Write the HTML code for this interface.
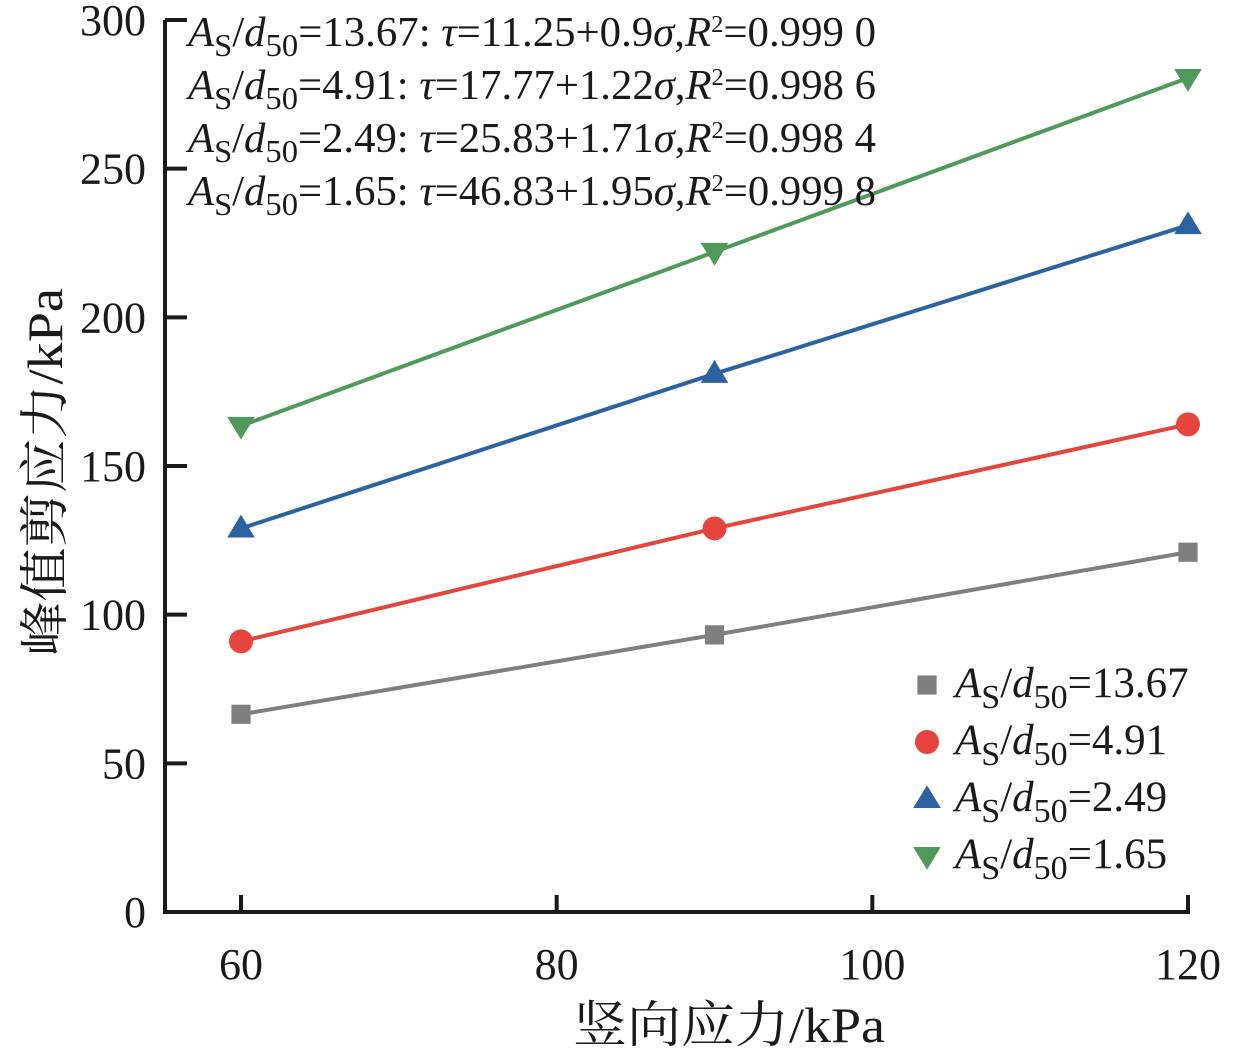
<!DOCTYPE html>
<html><head><meta charset="utf-8"><style>
body{margin:0;background:#fff}
svg{display:block;font-family:"Liberation Serif","Noto Serif CJK SC",serif}
</style></head><body>
<svg id="chart" width="1239" height="1053" viewBox="0 0 1239 1053">
<g id="plot"></g>
</svg>
<script>
const xTicks=[60,80,100,120];
const yTicks=[0,50,100,150,200,250,300];
const sigma=[60,90,120];
const s1367=[66.5,93.2,121];
const s491=[91,129,164];
const s249=[129,181,231];
const s165=[163.5,222,280.5];
const seriesNames=['13.67','4.91','2.49','1.65'];
const eqA=['=13.67: ','=4.91: ','=2.49: ','=1.65: '];
const eqB=['=11.25+0.9','=17.77+1.22','=25.83+1.71','=46.83+1.95'];
const r2=['=0.999 0','=0.998 6','=0.998 4','=0.999 8'];

const X=v=>241+(v-60)*(1188-241)/60;
const Y=v=>912-v*(892/300);
const NS='http://www.w3.org/2000/svg';
const g=document.getElementById('plot');
function mk(t,a,p){const e=document.createElementNS(NS,t);for(const k in a)e.setAttribute(k,a[k]);(p||g).appendChild(e);return e;}

const ax=mk('path',{d:'M165 20 V912 H1190',fill:'none',stroke:'#1a1a1a','stroke-width':4});


yTicks.forEach(v=>{
 const t=mk('line',{x1:165,x2:187,y1:Y(v),y2:Y(v),stroke:'#1a1a1a','stroke-width':4});
 
 
 const l=mk('text',{x:146,y:Y(v)+15,'text-anchor':'end','font-size':44,fill:'#1a1a1a'});
 l.textContent=v;
 
 
});
xTicks.forEach(v=>{
 const t=mk('line',{x1:X(v),x2:X(v),y1:912,y2:895,stroke:'#1a1a1a','stroke-width':4});
 
 
 const l=mk('text',{x:X(v),y:979,'text-anchor':'middle','font-size':44,fill:'#1a1a1a'});
 l.textContent=v;
 
 
});
const xt=mk('text',{x:729,y:1042,'text-anchor':'middle','font-size':50,fill:'#1a1a1a',textLength:312,lengthAdjust:'spacingAndGlyphs'});
xt.textContent='竖向应力/kPa';


const yt=mk('text',{x:0,y:0,'text-anchor':'middle','font-size':50,fill:'#1a1a1a',textLength:368,lengthAdjust:'spacingAndGlyphs',transform:'translate(62,472) rotate(-90)'});
yt.textContent='峰值剪应力/kPa';



const data=[s1367,s491,s249,s165];
const colors=['#7f7f7f','#e5453d','#2d62a2','#4f9a5a'];
function marker(i,cx,cy,sz,parent){
 let e;
 if(i===0)e=mk('rect',{x:cx-sz*0.8,y:cy-sz*0.8,width:sz*1.6,height:sz*1.6,fill:colors[i]},parent);
 else if(i===1)e=mk('circle',{cx:cx,cy:cy,r:sz,fill:colors[i]},parent);
 else if(i===2)e=mk('polygon',{points:`${cx-sz*1.15},${cy+sz*0.75} ${cx+sz*1.15},${cy+sz*0.75} ${cx},${cy-sz*1.15}`,fill:colors[i]},parent);
 else e=mk('polygon',{points:`${cx-sz*1.15},${cy-sz*0.75} ${cx+sz*1.15},${cy-sz*0.75} ${cx},${cy+sz*1.15}`,fill:colors[i]},parent);
 return e;
}
data.forEach((s,i)=>{
 const pl=mk('polyline',{points:s.map((v,j)=>X(sigma[j])+','+Y(v)).join(' '),fill:'none',stroke:colors[i],'stroke-width':4});
 
 
 s.forEach((v,j)=>{
  const m=marker(i,X(sigma[j]),Y(v),12);
  
  
 });
});
eqA.forEach((e,i)=>{
 const y=46+i*53;
 const t=mk('text',{x:188,y:y,'font-size':42,fill:'#1a1a1a',textLength:688,lengthAdjust:'spacingAndGlyphs'});
 t.innerHTML=`<tspan font-style="italic">A</tspan><tspan dy="10" font-size="32">S</tspan><tspan dy="-10">/</tspan><tspan font-style="italic">d</tspan><tspan dy="10" font-size="32">50</tspan><tspan dy="-10">${e}</tspan><tspan font-style="italic">τ</tspan><tspan>${eqB[i]}</tspan><tspan font-style="italic">σ</tspan><tspan>,</tspan><tspan font-style="italic">R</tspan><tspan dy="-14" font-size="24">2</tspan><tspan dy="14">${r2[i]}</tspan>`;
 
 
});
seriesNames.forEach((n,i)=>{
 const cy=685+i*57;
 const lg=mk('g',{});
 
 
 marker(i,927,cy,12,lg);
 const t=mk('text',{x:955,y:cy+12,'font-size':43,fill:'#1a1a1a'},lg);
 t.innerHTML=`<tspan font-style="italic">A</tspan><tspan dy="11" font-size="34">S</tspan><tspan dy="-11">/</tspan><tspan font-style="italic">d</tspan><tspan dy="11" font-size="34">50</tspan><tspan dy="-11">=${n}</tspan>`;
});
</script>
</body></html>
